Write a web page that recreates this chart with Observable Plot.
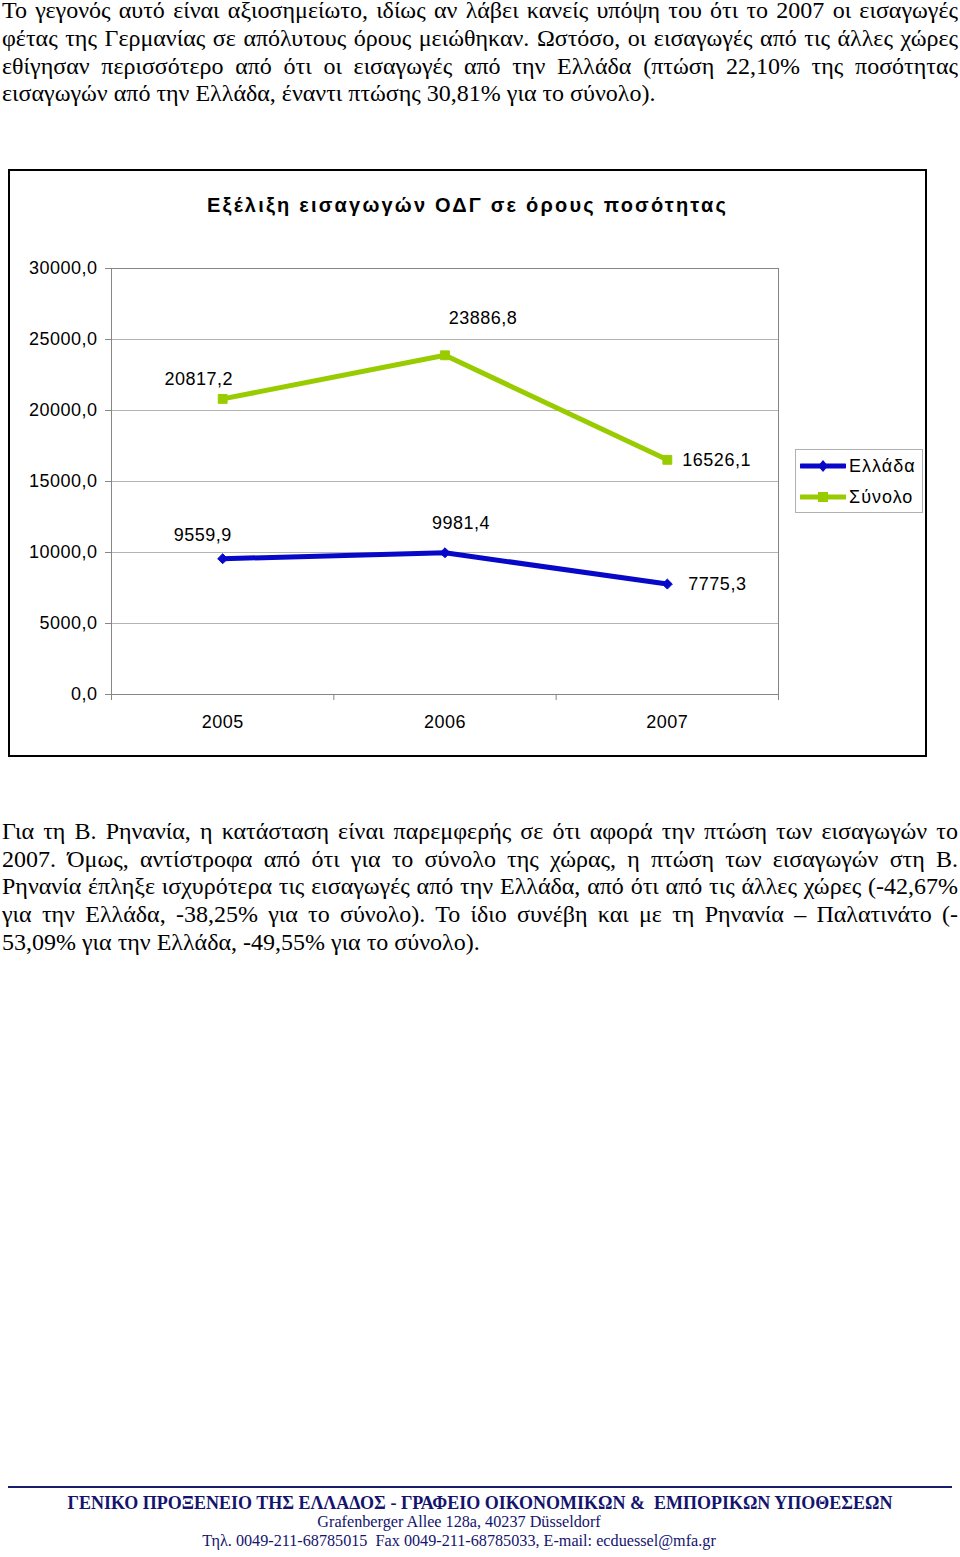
<!DOCTYPE html>
<html>
<head>
<meta charset="utf-8">
<script src="https://cdn.jsdelivr.net/npm/d3@7"></script>
<script src="https://cdn.jsdelivr.net/npm/@observablehq/plot@0.6"></script>
<style>
  html, body { margin: 0; padding: 0; background: #fff; }
  body { width: 960px; height: 1557px; position: relative; overflow: hidden; }
  .para { position: absolute; left: 2px; width: 956px; font-family: "Liberation Serif", "Times New Roman", serif; font-size: 24px; line-height: 27.6px; color: #000; }
  .para .ln { white-space: nowrap; text-align: justify; text-align-last: justify; }
  .para .ln.last { text-align-last: left; }
  #frame { position: absolute; left: 8px; top: 169px; width: 915px; height: 584px; border: 2px solid #000; }
  #title { position: absolute; left: 0; top: 22px; width: 915px; text-align: center; font-family: "Liberation Sans", Arial, sans-serif; font-weight: bold; font-size: 20px; line-height: 24px; letter-spacing: 2.2px; color: #000; }
  #chart { position: absolute; left: 0; top: 0; }
  #chart svg text { font-family: "Liberation Sans", Arial, sans-serif; letter-spacing: 0.5px; }
  #legend { position: absolute; left: 785px; top: 278px; width: 126px; height: 62px; border: 1px solid #b0b0b0; font-family: "Liberation Sans", Arial, sans-serif; font-size: 18px; letter-spacing: 1px; }
  #legend .item { position: absolute; left: 4px; height: 22px; display: flex; align-items: center; }
  #legend svg { display: block; margin-right: 3px; }
  #footline { position: absolute; left: 8px; top: 1486px; width: 944px; height: 2px; background: #1c1c6e; }
  .foot { position: absolute; width: 960px; text-align: center; font-family: "Liberation Serif", "Times New Roman", serif; color: #14146e; line-height: 19px; white-space: nowrap; }
</style>
</head>
<body>
<div class="para" style="top:-2.7px">
  <div class="ln">Το γεγονός αυτό είναι αξιοσημείωτο, ιδίως αν λάβει κανείς υπόψη του ότι το 2007 οι εισαγωγές</div>
  <div class="ln">φέτας της Γερμανίας σε απόλυτους όρους μειώθηκαν. Ωστόσο, οι εισαγωγές από τις άλλες χώρες</div>
  <div class="ln">εθίγησαν περισσότερο από ότι οι εισαγωγές από την Ελλάδα (πτώση 22,10% της ποσότητας</div>
  <div class="ln last">εισαγωγών από την Ελλάδα, έναντι πτώσης 30,81% για το σύνολο).</div>
</div>

<div id="frame">
  <div id="chart"></div>
  <div id="title">Εξέλιξη εισαγωγών ΟΔΓ σε όρους ποσότητας</div>
  <div id="legend"></div>
</div>

<div class="para" style="top:818.3px">
  <div class="ln">Για τη Β. Ρηνανία, η κατάσταση είναι παρεμφερής σε ότι αφορά την πτώση των εισαγωγών το</div>
  <div class="ln">2007. Όμως, αντίστροφα από ότι για το σύνολο της χώρας, η πτώση των εισαγωγών στη Β.</div>
  <div class="ln">Ρηνανία έπληξε ισχυρότερα τις εισαγωγές από την Ελλάδα, από ότι από τις άλλες χώρες (-42,67%</div>
  <div class="ln">για την Ελλάδα, -38,25% για το σύνολο). Το ίδιο συνέβη και με τη Ρηνανία – Παλατινάτο (-</div>
  <div class="ln last">53,09% για την Ελλάδα, -49,55% για το σύνολο).</div>
</div>

<div id="footline"></div>
<div class="foot" style="left:0; top:1494px; font-size:18px; font-weight:bold;">ΓΕΝΙΚΟ ΠΡΟΞΕΝΕΙΟ ΤΗΣ ΕΛΛΑΔΟΣ - ΓΡΑΦΕΙΟ ΟΙΚΟΝΟΜΙΚΩΝ &amp;&nbsp; ΕΜΠΟΡΙΚΩΝ ΥΠΟΘΕΣΕΩΝ</div>
<div class="foot" style="left:-21px; top:1513px; font-size:16.2px;">Grafenberger Allee 128a, 40237 Düsseldorf</div>
<div class="foot" style="left:-21px; top:1532px; font-size:16.2px;">Τηλ. 0049-211-68785015&nbsp; Fax 0049-211-68785033, E-mail: ecduessel@mfa.gr</div>

<script>
// ---- data ----
const years = ["2005", "2006", "2007"];
const greece = [9559.9, 9981.4, 7775.3];   // Ελλάδα
const total = [20817.2, 23886.8, 16526.1]; // Σύνολο
const seriesNames = ["Ελλάδα", "Σύνολο"];
const yTicks = [0, 5000, 10000, 15000, 20000, 25000, 30000];

// ---- styling / layout ----
const colors = {"Ελλάδα": "#0808c8", "Σύνολο": "#99cc00"};
const symbols = {"Ελλάδα": "diamond2", "Σύνολο": "square"};
// data label placement (Excel-like), per series per point
const labelPlacement = {
  "Ελλάδα": [{dx: -20, dy: -24, a: "middle"}, {dx: 16, dy: -30, a: "middle"}, {dx: 21, dy: 0, a: "start"}],
  "Σύνολο": [{dx: -24, dy: -20, a: "middle"}, {dx: 38, dy: -37, a: "middle"}, {dx: 15, dy: 0, a: "start"}]
};

const fmt = v => v.toFixed(1).replace(".", ",");
const rows = [];
years.forEach((yr, i) => {
  rows.push({i, year: yr, value: greece[i], series: seriesNames[0]});
  rows.push({i, year: yr, value: total[i], series: seriesNames[1]});
});

const marks = [
  Plot.gridY(yTicks, {stroke: "#b4b4b4", strokeOpacity: 1}),
  Plot.frame({stroke: "#868686"}),
  Plot.axisY(yTicks, {anchor: "left", tickSize: 6, tickPadding: 8, tickFormat: fmt, stroke: "#868686", fill: "#000", fontSize: 18, label: null}),
  Plot.axisX([-0.5, 0.5, 1.5, 2.5], {anchor: "bottom", tickSize: 6, tickFormat: () => "", stroke: "#868686", label: null}),
  Plot.axisX([0, 1, 2], {anchor: "bottom", tickSize: 0, tickPadding: 21, tickFormat: i => years[i], fill: "#000", fontSize: 18, label: null})
];

for (const s of seriesNames) {
  const data = rows.filter(d => d.series === s);
  marks.push(Plot.lineY(data, {x: "i", y: "value", stroke: colors[s], strokeWidth: 5}));
  marks.push(Plot.dot(data, {x: "i", y: "value", symbol: symbols[s], r: s === "Σύνολο" ? 5 : 4.5, fill: colors[s], stroke: colors[s], strokeWidth: 1}));
  data.forEach((d, k) => {
    const p = labelPlacement[s][k];
    marks.push(Plot.text([d], {x: "i", y: "value", text: d => fmt(d.value), dx: p.dx, dy: p.dy, textAnchor: p.a, fontSize: 18, fill: "#000"}));
  });
}

const chart = Plot.plot({
  width: 915,
  height: 584,
  marginLeft: 101,
  marginRight: 147,
  marginTop: 97,
  marginBottom: 61,
  style: {background: "transparent", overflow: "visible"},
  x: {type: "linear", domain: [-0.5, 2.5], axis: null},
  y: {domain: [0, 30000], axis: null},
  marks
});
document.getElementById("chart").appendChild(chart);

// ---- legend ----
const legend = document.getElementById("legend");
seriesNames.forEach((s, k) => {
  const item = document.createElement("div");
  item.className = "item";
  item.style.top = (5 + k * 31) + "px";
  const marker = symbols[s] === "square"
    ? `<rect x="18" y="6" width="10" height="10" fill="${colors[s]}"/>`
    : `<path d="M23,5 L28,11 L23,17 L18,11 Z" fill="${colors[s]}"/>`;
  item.innerHTML = `<svg width="46" height="22"><line x1="1" x2="45" y1="11" y2="11" stroke="${colors[s]}" stroke-width="5" stroke-linecap="round"/>${marker}</svg><span>${s}</span>`;
  legend.appendChild(item);
});
</script>
</body>
</html>
